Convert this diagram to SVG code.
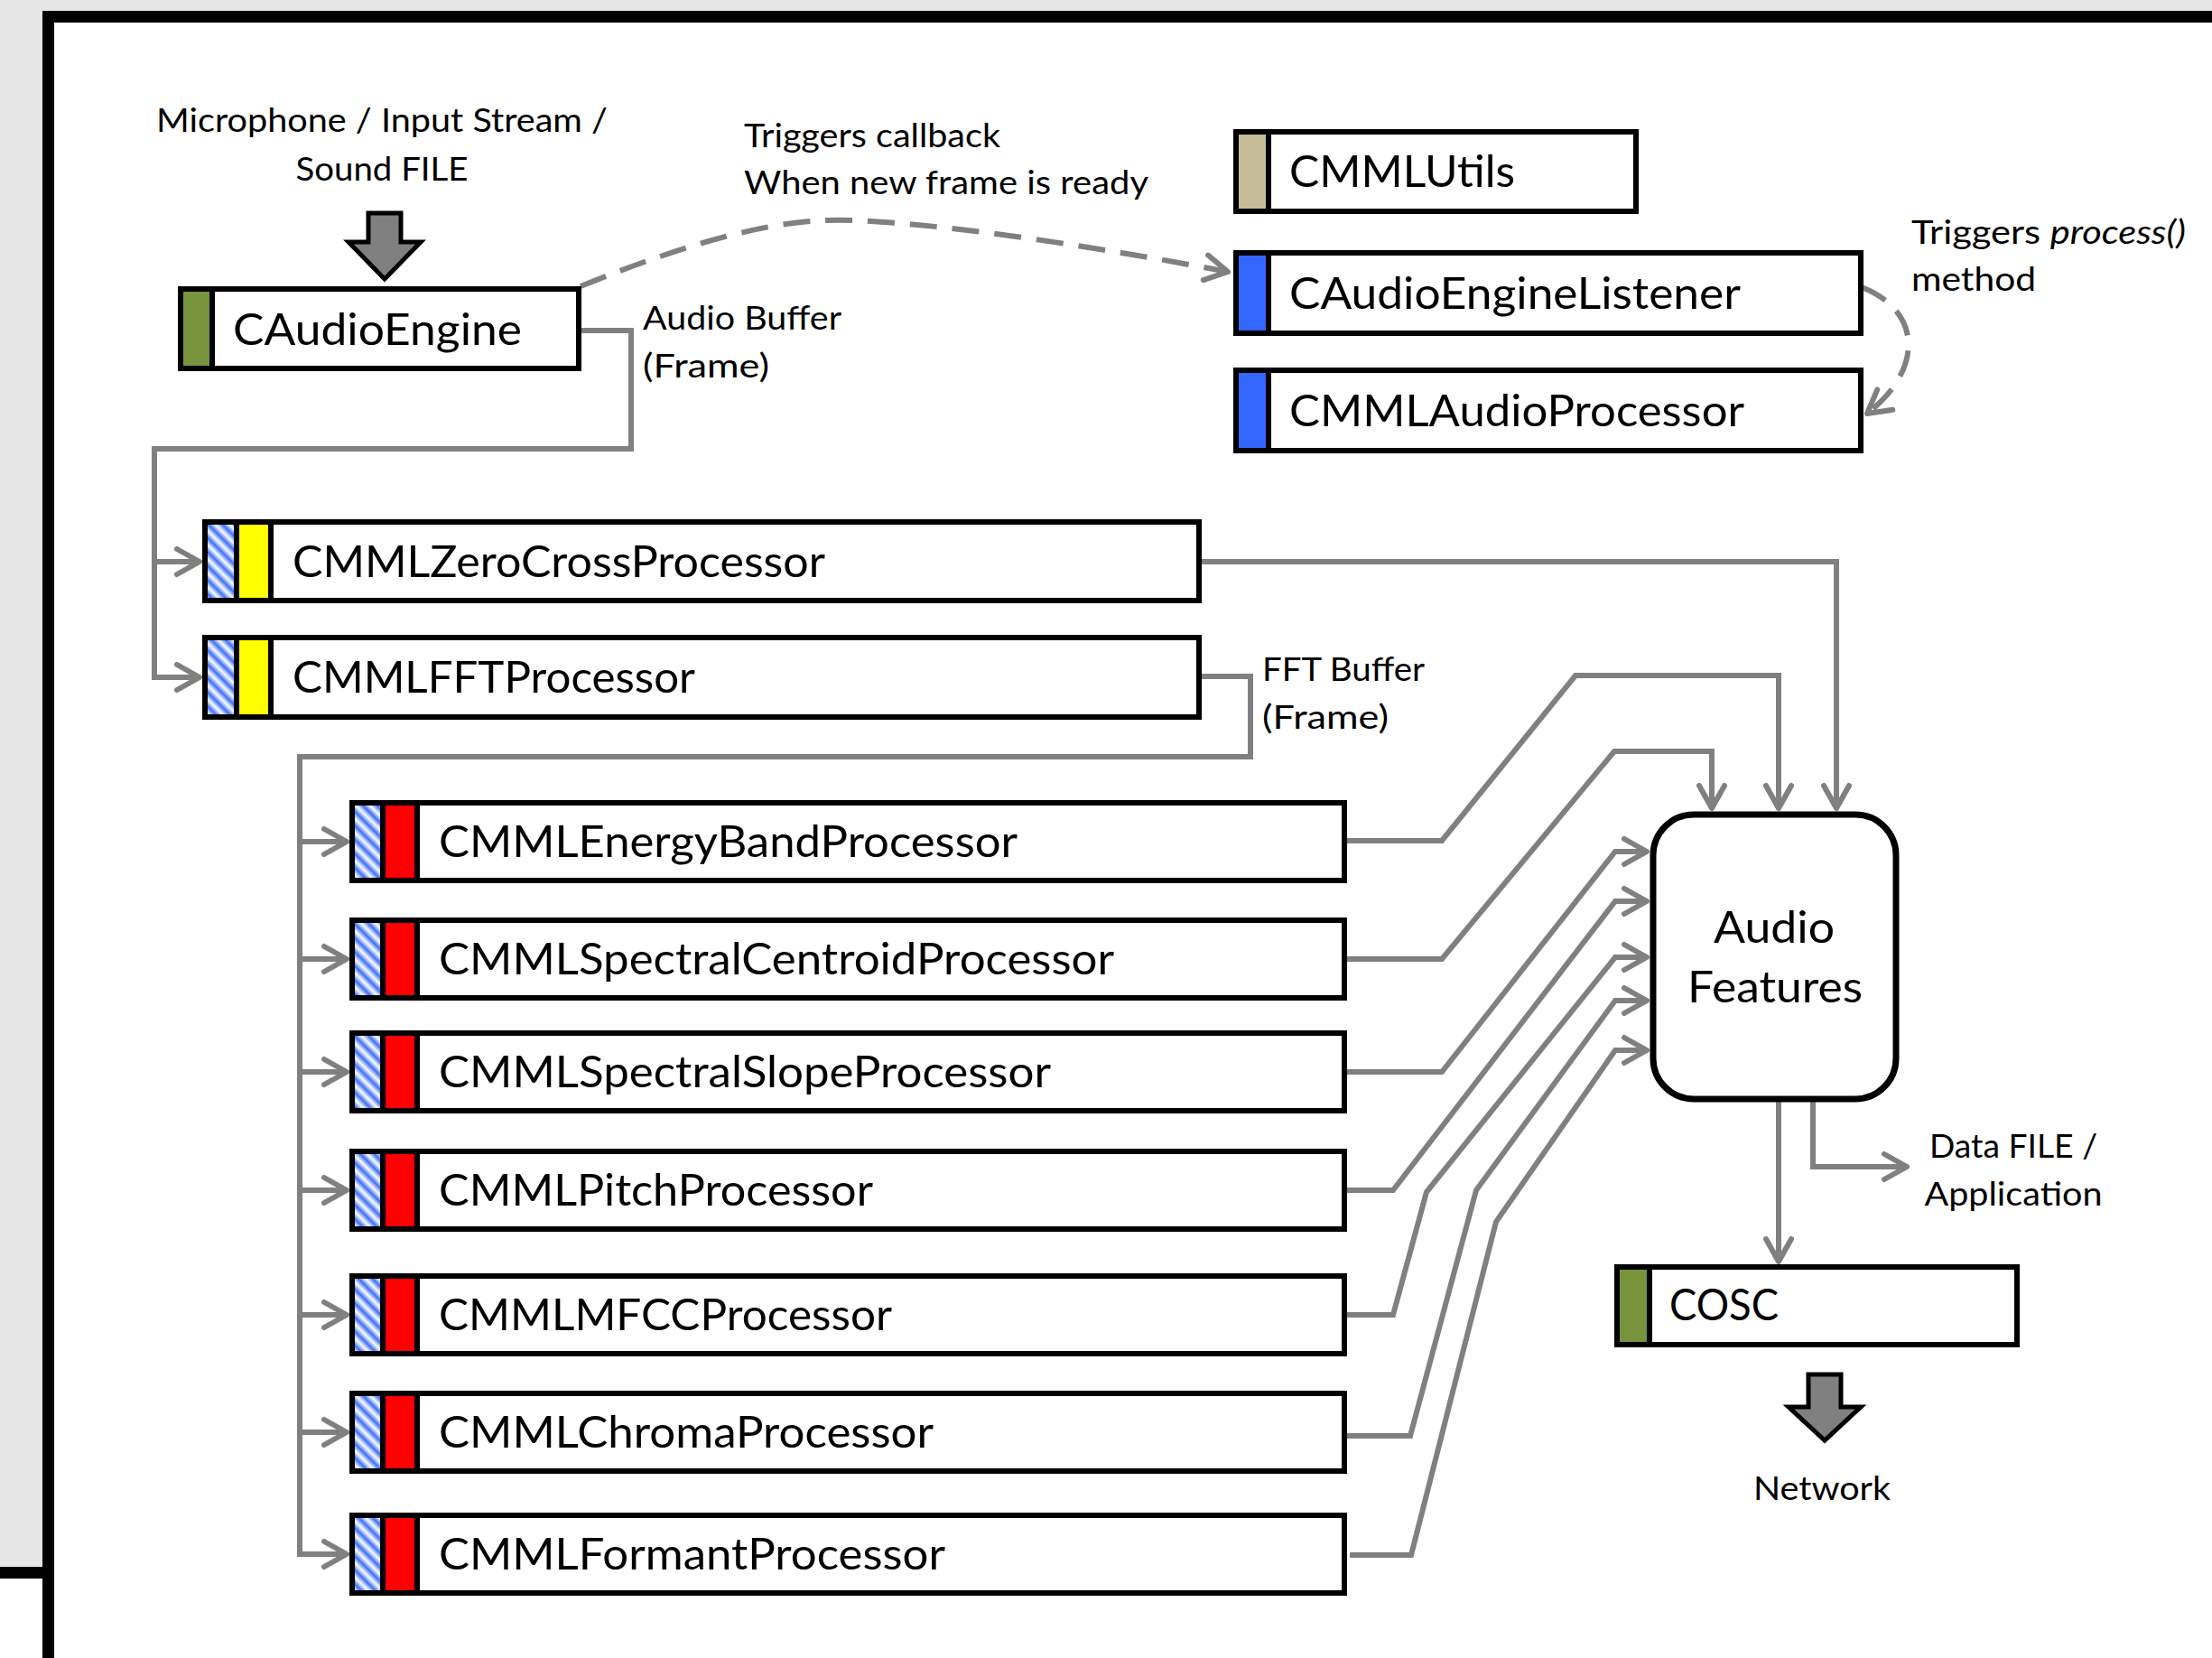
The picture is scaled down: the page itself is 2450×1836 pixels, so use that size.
<svg xmlns="http://www.w3.org/2000/svg" width="2450" height="1836" viewBox="0 0 2450 1836">
<defs>
<style>
.box{fill:#fff;stroke:#000;stroke-width:6}
.strip{stroke:#000;stroke-width:6}
.conn{fill:none;stroke:#808080;stroke-width:6;stroke-linejoin:miter}
.dash{stroke-dasharray:30 17}
.arr{marker-end:url(#ah)}
text{font-family:Lato,"Open Sans","Liberation Sans",sans-serif;fill:#000}
.nm{font-size:49px}
.lb{font-size:37px}
.big{fill:#808080;stroke:#000;stroke-width:5}
</style>
<linearGradient id="hg" x1="0" y1="0" x2="1" y2="0">
<stop offset="0" stop-color="#ffffff"/>
<stop offset="0.5" stop-color="#3f70f5"/>
<stop offset="1" stop-color="#ffffff"/>
</linearGradient>
<pattern id="hatch" patternUnits="userSpaceOnUse" width="11" height="11" patternTransform="rotate(-45)">
<rect width="11" height="11" fill="url(#hg)"/>
</pattern>
<marker id="ah" viewBox="-32 -20 38 40" refX="0" refY="0" markerWidth="38" markerHeight="40" markerUnits="userSpaceOnUse" orient="auto">
<path d="M-25,-14 L0,0 L-25,14" fill="none" stroke="#808080" stroke-width="6" stroke-linecap="round" stroke-linejoin="round"/>
</marker>
</defs>

<g id="frame">
<rect x="0" y="0" width="2450" height="1836" fill="#fff"/>
<rect x="0" y="0" width="2450" height="12" fill="#e6e6e6"/>
<rect x="0" y="0" width="47" height="1735" fill="#e6e6e6"/>
<rect x="47" y="12" width="2403" height="13" fill="#000"/>
<rect x="47" y="12" width="13" height="1824" fill="#000"/>
<rect x="0" y="1735" width="60" height="13" fill="#000"/>
</g>

<g id="connectors">
<path class="conn dash arr" d="M643,317 C760,270 860,240 944,244 C1060,248 1250,280 1360,301"/>
<path class="conn dash arr" d="M2062,318 C2130,345 2130,410 2068,458"/>
<path class="conn arr" d="M644,366 H699 V497 H171 V750 H221"/>
<path class="conn arr" d="M171,622 H221"/>
<path class="conn arr" d="M1330,749 H1385 V838 H332 V1721 H384"/>
<path class="conn arr" d="M332,932 H384"/>
<path class="conn arr" d="M332,1062 H384"/>
<path class="conn arr" d="M332,1187 H384"/>
<path class="conn arr" d="M332,1318 H384"/>
<path class="conn arr" d="M332,1456 H384"/>
<path class="conn arr" d="M332,1586 H384"/>
<path class="conn arr" d="M1330,622 H2034 V895"/>
<path class="conn arr" d="M1492,931 H1597 L1745,748 H1970 V895"/>
<path class="conn arr" d="M1492,1062 H1597 L1788,832 H1896 V895"/>
<path class="conn arr" d="M1492,1187 H1597 L1789,943 H1824"/>
<path class="conn arr" d="M1492,1318 H1543 L1789,998 H1824"/>
<path class="conn arr" d="M1492,1456 H1543 L1580,1320 L1789,1060 H1824"/>
<path class="conn arr" d="M1492,1590 H1562 L1635,1318 L1789,1108 H1824"/>
<path class="conn arr" d="M1495,1722 H1563 L1657,1353 L1789,1163 H1824"/>
<path class="conn arr" d="M1970,1220 V1397"/>
<path class="conn arr" d="M2008,1220 V1292 H2112"/>
</g>

<g id="input-source">
<text class="lb" x="423" y="146" text-anchor="middle" font-size="38" textLength="500" lengthAdjust="spacingAndGlyphs">Microphone / Input Stream /</text>
<text class="lb" x="423" y="200" text-anchor="middle" font-size="38" textLength="191" lengthAdjust="spacingAndGlyphs">Sound FILE</text>
<polygon class="big" points="408,236 444,236 444,268 466,268 426,309 386,268 408,268"/>
</g>

<g id="CAudioEngine">
<rect class="box" x="200" y="320" width="441" height="88"/>
<rect class="strip" x="200" y="320" width="35" height="88" fill="#77933c"/>
<text class="nm" x="258" y="382" textLength="320" lengthAdjust="spacingAndGlyphs">CAudioEngine</text>
</g>

<g id="label-callback">
<text class="lb" x="824" y="163" textLength="284" lengthAdjust="spacingAndGlyphs">Triggers callback</text>
<text class="lb" x="824" y="215" textLength="448" lengthAdjust="spacingAndGlyphs">When new frame is ready</text>
</g>

<g id="label-audio-buffer">
<text class="lb" x="712" y="365" textLength="220" lengthAdjust="spacingAndGlyphs">Audio Buffer</text>
<text class="lb" x="712" y="418" textLength="140" lengthAdjust="spacingAndGlyphs">(Frame)</text>
</g>

<g id="CMMLUtils">
<rect class="box" x="1369" y="146" width="443" height="88"/>
<rect class="strip" x="1369" y="146" width="36" height="88" fill="#c4bd97"/>
<text class="nm" x="1428" y="207" textLength="250" lengthAdjust="spacingAndGlyphs">CMMLUtils</text>
</g>

<g id="CAudioEngineListener">
<rect class="box" x="1369" y="280" width="692" height="89"/>
<rect class="strip" x="1369" y="280" width="36" height="89" fill="#3366ff"/>
<text class="nm" x="1428" y="342" textLength="500" lengthAdjust="spacingAndGlyphs">CAudioEngineListener</text>
</g>

<g id="CMMLAudioProcessor">
<rect class="box" x="1369" y="410" width="692" height="89"/>
<rect class="strip" x="1369" y="410" width="36" height="89" fill="#3366ff"/>
<text class="nm" x="1428" y="472" textLength="504" lengthAdjust="spacingAndGlyphs">CMMLAudioProcessor</text>
</g>

<g id="label-process">
<text class="lb" x="2117" y="270" textLength="304" lengthAdjust="spacingAndGlyphs">Triggers <tspan font-style="italic">process()</tspan></text>
<text class="lb" x="2117" y="322" textLength="138" lengthAdjust="spacingAndGlyphs">method</text>
</g>

<g id="CMMLZeroCrossProcessor">
<rect class="box" x="227" y="578" width="1101" height="87"/>
<rect class="strip" x="227" y="578" width="35" height="87" fill="url(#hatch)"/>
<rect class="strip" x="262" y="578" width="38" height="87" fill="#ffff00"/>
<text class="nm" x="324" y="639" textLength="590" lengthAdjust="spacingAndGlyphs">CMMLZeroCrossProcessor</text>
</g>

<g id="CMMLFFTProcessor">
<rect class="box" x="227" y="706" width="1101" height="88"/>
<rect class="strip" x="227" y="706" width="35" height="88" fill="url(#hatch)"/>
<rect class="strip" x="262" y="706" width="38" height="88" fill="#ffff00"/>
<text class="nm" x="324" y="767" textLength="446" lengthAdjust="spacingAndGlyphs">CMMLFFTProcessor</text>
</g>

<g id="label-fft-buffer">
<text class="lb" x="1398" y="754" textLength="180" lengthAdjust="spacingAndGlyphs">FFT Buffer</text>
<text class="lb" x="1398" y="807" textLength="140" lengthAdjust="spacingAndGlyphs">(Frame)</text>
</g>

<g id="CMMLEnergyBandProcessor">
<rect class="box" x="390" y="889" width="1099" height="86"/>
<rect class="strip" x="390" y="889" width="34" height="86" fill="url(#hatch)"/>
<rect class="strip" x="424" y="889" width="38" height="86" fill="#ff0000"/>
<text class="nm" x="486" y="949" textLength="641" lengthAdjust="spacingAndGlyphs">CMMLEnergyBandProcessor</text>
</g>

<g id="CMMLSpectralCentroidProcessor">
<rect class="box" x="390" y="1019" width="1099" height="86"/>
<rect class="strip" x="390" y="1019" width="34" height="86" fill="url(#hatch)"/>
<rect class="strip" x="424" y="1019" width="38" height="86" fill="#ff0000"/>
<text class="nm" x="486" y="1079" textLength="748" lengthAdjust="spacingAndGlyphs">CMMLSpectralCentroidProcessor</text>
</g>

<g id="CMMLSpectralSlopeProcessor">
<rect class="box" x="390" y="1144" width="1099" height="86"/>
<rect class="strip" x="390" y="1144" width="34" height="86" fill="url(#hatch)"/>
<rect class="strip" x="424" y="1144" width="38" height="86" fill="#ff0000"/>
<text class="nm" x="486" y="1204" textLength="678" lengthAdjust="spacingAndGlyphs">CMMLSpectralSlopeProcessor</text>
</g>

<g id="CMMLPitchProcessor">
<rect class="box" x="390" y="1275" width="1099" height="86"/>
<rect class="strip" x="390" y="1275" width="34" height="86" fill="url(#hatch)"/>
<rect class="strip" x="424" y="1275" width="38" height="86" fill="#ff0000"/>
<text class="nm" x="486" y="1335" textLength="481" lengthAdjust="spacingAndGlyphs">CMMLPitchProcessor</text>
</g>

<g id="CMMLMFCCProcessor">
<rect class="box" x="390" y="1413" width="1099" height="86"/>
<rect class="strip" x="390" y="1413" width="34" height="86" fill="url(#hatch)"/>
<rect class="strip" x="424" y="1413" width="38" height="86" fill="#ff0000"/>
<text class="nm" x="486" y="1473" textLength="502" lengthAdjust="spacingAndGlyphs">CMMLMFCCProcessor</text>
</g>

<g id="CMMLChromaProcessor">
<rect class="box" x="390" y="1543" width="1099" height="86"/>
<rect class="strip" x="390" y="1543" width="34" height="86" fill="url(#hatch)"/>
<rect class="strip" x="424" y="1543" width="38" height="86" fill="#ff0000"/>
<text class="nm" x="486" y="1603" textLength="548" lengthAdjust="spacingAndGlyphs">CMMLChromaProcessor</text>
</g>

<g id="CMMLFormantProcessor">
<rect class="box" x="390" y="1678" width="1099" height="86"/>
<rect class="strip" x="390" y="1678" width="34" height="86" fill="url(#hatch)"/>
<rect class="strip" x="424" y="1678" width="38" height="86" fill="#ff0000"/>
<text class="nm" x="486" y="1738" textLength="561" lengthAdjust="spacingAndGlyphs">CMMLFormantProcessor</text>
</g>

<g id="AudioFeatures">
<rect x="1831" y="902" width="269" height="315" rx="45" ry="45" fill="#fff" stroke="#000" stroke-width="7"/>
<text class="nm" x="1965" y="1044" text-anchor="middle" textLength="134" lengthAdjust="spacingAndGlyphs">Audio</text>
<text class="nm" x="1966" y="1110" text-anchor="middle" textLength="194" lengthAdjust="spacingAndGlyphs">Features</text>
</g>

<g id="label-data-file">
<text class="lb" x="2230" y="1282" text-anchor="middle" textLength="186" lengthAdjust="spacingAndGlyphs">Data FILE /</text>
<text class="lb" x="2230" y="1335" text-anchor="middle" textLength="197" lengthAdjust="spacingAndGlyphs">Application</text>
</g>

<g id="COSC">
<rect class="box" x="1791" y="1403" width="443" height="86"/>
<rect class="strip" x="1791" y="1403" width="36" height="86" fill="#77933c"/>
<text class="nm" x="1849" y="1462" textLength="121" lengthAdjust="spacingAndGlyphs">COSC</text>
</g>

<g id="network-output">
<polygon class="big" points="2003,1522 2039,1522 2039,1558 2061,1558 2021,1595 1981,1558 2003,1558"/>
<text class="lb" x="2018" y="1661" text-anchor="middle" textLength="152" lengthAdjust="spacingAndGlyphs">Network</text>
</g>
</svg>
